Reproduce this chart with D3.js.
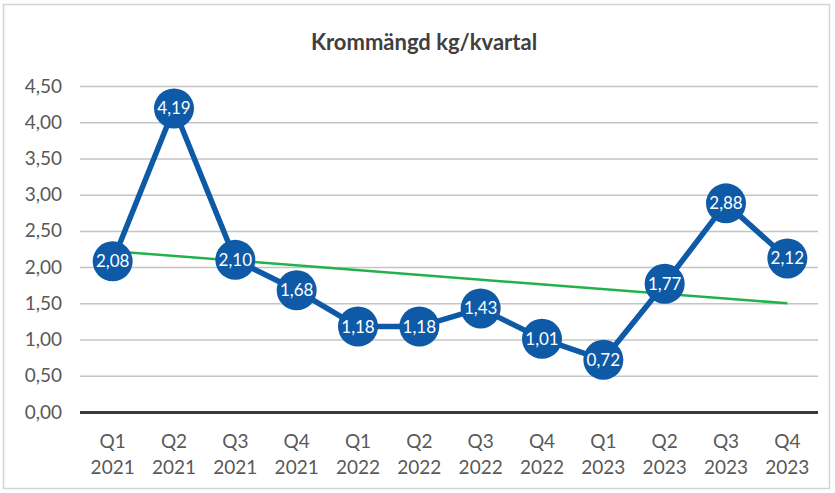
<!DOCTYPE html>
<html><head><meta charset="utf-8">
<script src="https://cdn.jsdelivr.net/npm/d3@7"></script>
<style>body{margin:0;background:#fff;}svg{display:block;}</style>
</head><body><svg id="c" width="835" height="493"></svg>
<script>
const quarters = ["Q1","Q2","Q3","Q4","Q1","Q2","Q3","Q4","Q1","Q2","Q3","Q4"];
const years = ["2021","2021","2021","2021","2022","2022","2022","2022","2023","2023","2023","2023"];
const values = [2.08,4.19,2.10,1.68,1.18,1.18,1.43,1.01,0.72,1.77,2.88,2.12];
const trendEnds = [2.22,1.50];
const yTicks = [0,0.5,1,1.5,2,2.5,3,3.5,4,4.5];
const title = "Krommängd kg/kvartal";

const svg = d3.select("#c");
const W=835,H=493;
const m={l:82,r:17,t:86,b:81};
const cats = quarters.map((q,i)=>i);
const x = d3.scaleBand().domain(cats).range([m.l, W-m.r]);
const y = d3.scaleLinear().domain([0,4.5]).range([H-m.b, m.t]);
const fmt = v => d3.format(".2f")(v).replace(".",",");
const font = "Lato, 'Open Sans', sans-serif";

svg.append("rect").attr("x",3.5).attr("y",4.5).attr("width",826).attr("height",484)
  .attr("fill","#fff").attr("stroke","#d4d4d4").attr("stroke-width",1.5);

svg.append("text").attr("x",424).attr("y",50).attr("text-anchor","middle")
  .attr("font-family",font).attr("font-size",22).attr("font-weight",700)
  .attr("fill","#404040").text(title);

// gridlines
const yAxis = d3.axisLeft(y).tickValues(yTicks).tickFormat(fmt).tickSize(-(W-m.l-m.r+2)).tickPadding(18);
const ga = svg.append("g").attr("transform",`translate(${m.l-2},0)`).call(yAxis);
ga.select(".domain").remove();
ga.selectAll(".tick line").attr("stroke","#c4c4c4").attr("stroke-width",1.5);
ga.selectAll(".tick text").attr("font-family",font).attr("font-size",19).attr("fill","#595959");
ga.selectAll(".tick").filter(d=>d===0).select("line").attr("stroke","#3a3a3a").attr("stroke-width",3);

// x labels
const xa = svg.append("g");
cats.forEach(i=>{
  const t = xa.append("text").attr("x",x(i)+x.bandwidth()/2).attr("text-anchor","middle")
   .attr("font-family",font).attr("font-size",19).attr("fill","#595959");
  t.append("tspan").attr("x",x(i)+x.bandwidth()/2).attr("y",448).text(quarters[i]);
  t.append("tspan").attr("x",x(i)+x.bandwidth()/2).attr("y",474).text(years[i]);
});

const cx = i => x(i)+x.bandwidth()/2;
// series line
svg.append("path").datum(values)
  .attr("d", d3.line().x((d,i)=>cx(i)).y(d=>y(d)))
  .attr("fill","none").attr("stroke","#0E5AA7").attr("stroke-width",5.5).attr("stroke-linejoin","round");

// trend line
svg.append("line").attr("x1",cx(0)).attr("y1",y(trendEnds[0])).attr("x2",cx(11)).attr("y2",y(trendEnds[1]))
  .attr("stroke","#22B24C").attr("stroke-width",2.5);

// markers
const g = svg.append("g");
values.forEach((v,i)=>{
  g.append("circle").attr("cx",cx(i)).attr("cy",y(v)).attr("r",20).attr("fill","#0E5AA7");
  g.append("text").attr("x",cx(i)).attr("y",y(v)+6).attr("text-anchor","middle")
   .attr("font-family",font).attr("font-size",17).attr("fill","#fff").text(fmt(v));
});
</script></body></html>
